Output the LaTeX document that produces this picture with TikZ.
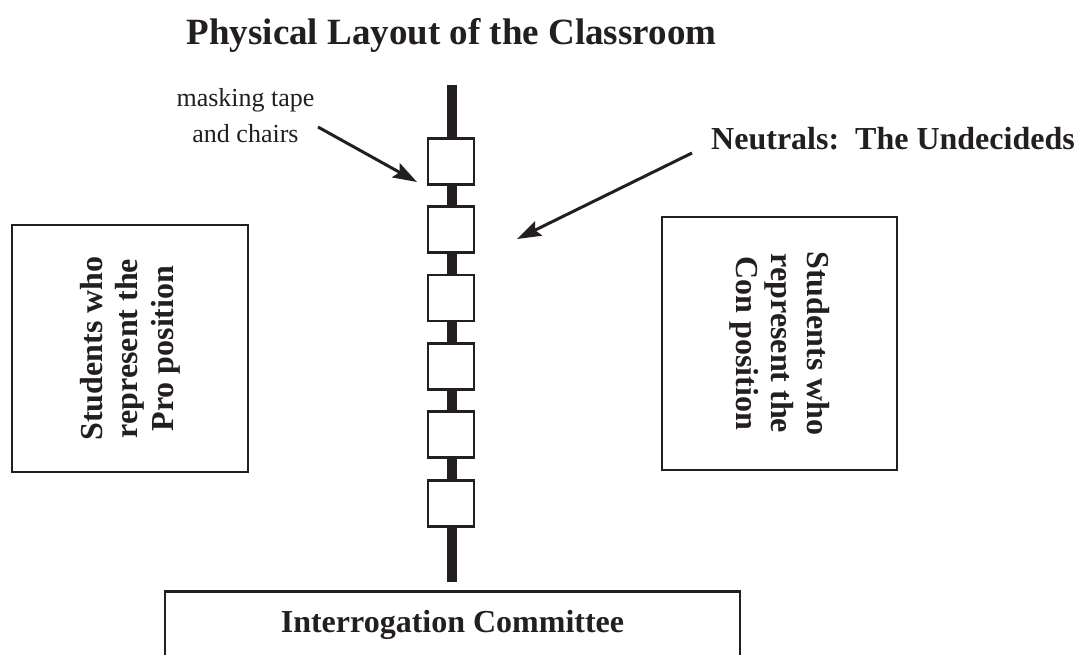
\documentclass[tikz,border=0pt]{standalone}
\usepackage{fontspec}
\setmainfont{Liberation Serif}
\usetikzlibrary{arrows.meta}
\definecolor{ink}{HTML}{231F20}
\tikzset{
  chair/.style={draw=ink, fill=white, line width=2.8pt, minimum width=46pt, minimum height=46pt, inner sep=0pt},
  groupbox/.style={draw=ink, line width=2.6pt, fill=white, align=center, inner sep=0pt,
     font=\fontsize{32}{35.5}\selectfont\bfseries, text=ink},
  pointer/.style={draw=ink, line width=3pt, -{Stealth[length=24pt,width=16pt,inset=4pt]}},
  tape/.style={draw=ink, line width=10.5pt}
}
\begin{document}
\begin{tikzpicture}[x=1pt,y=1pt]
\useasboundingbox (0,0) rectangle (1078,-654);
\clip (0,0) rectangle (1078,-654);
\fill[white] (0,0) rectangle (1078,-654);
% title
\node[anchor=base, font=\fontsize{37}{44}\selectfont\bfseries, text=ink, inner sep=0pt] (title) at (451.5,-44) {Physical Layout of the Classroom};
% tape
\coordinate (tapetop) at (452,-85);
\coordinate (tapebot) at (452,-582);
\draw[tape] (tapetop) -- (tapebot);
% chairs
\foreach \i in {1,...,6}{
  \node[chair] (chair\i) at (451,{-161.2-68.4*(\i-1)}) {};
}
% side groups
\node[groupbox, rotate=90, minimum width=247pt, minimum height=236pt] (pro) at (130,-348.5)
  {Students who\\represent the\\Pro position};
\node[groupbox, rotate=-90, minimum width=253pt, minimum height=235pt] (con) at (779.5,-343.5)
  {Students who\\represent the\\Con position};
% committee
\node[draw=ink, line width=2.6pt, minimum width=575pt, minimum height=130pt, anchor=north, inner sep=0pt] (cbox) at (452.5,-590) {};
\node[anchor=base, font=\fontsize{32}{35}\selectfont\bfseries, text=ink, inner sep=0pt] (committee) at (452.5,-632) {Interrogation Committee};
% labels
\node[align=center, font=\fontsize{26}{36}\selectfont, text=ink, inner sep=0pt, anchor=base] (masking) at (245.5,-142) {masking tape\\and chairs};
\node[anchor=base east, font=\fontsize{32}{35}\selectfont\bfseries, text=ink, inner sep=0pt] (neutrals) at (1075,-149) {Neutrals:\ \ The Undecideds};
% arrows
\coordinate (a1s) at (318,-127);
\coordinate (a1e) at (417,-182);
\coordinate (a2s) at (692,-153);
\coordinate (a2e) at (517,-239);
\draw[pointer] (a1s) -- (a1e);
\draw[pointer] (a2s) -- (a2e);
\end{tikzpicture}
\end{document}
